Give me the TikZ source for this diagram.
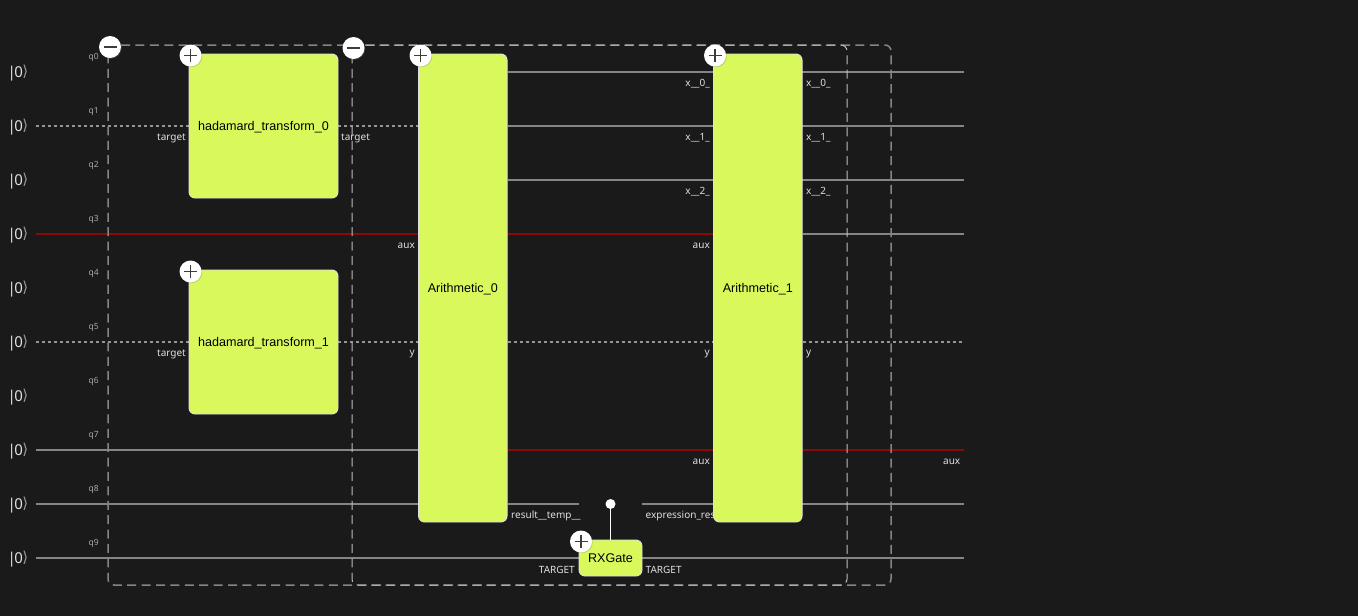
\documentclass[tikz,border=0pt]{standalone}
\usepackage{fontspec}
\setmainfont{Liberation Sans}
\newfontfamily\labelfont{Noto Sans}
\newfontfamily\ketfont{DejaVu Sans}
\usetikzlibrary{calc}
\usetikzlibrary{shadows}
\pgfdeclarelayer{back}
\pgfsetlayers{back,main}
\definecolor{bgDark}{HTML}{1A1A1A}
\definecolor{blockLime}{HTML}{D9F85B}
\definecolor{wireGrey}{HTML}{858585}
\definecolor{wireRed}{HTML}{8A0A0A}
\definecolor{labelGrey}{HTML}{E0E0E0}
\definecolor{dotGrey}{HTML}{969696}
\definecolor{ketDim}{HTML}{9A9A9A}
\newcommand{\ketzero}{|\kern-1.5pt 0\kern-0.5pt\raisebox{0.6pt}{\textcolor{ketDim}{\ketfont\fontsize{15}{17}\selectfont⟩}}}
\begin{document}
\begin{tikzpicture}[x=1pt, y=-1pt,
	blockStyle/.style={rectangle, draw=labelGrey, line width=0.9pt, fill=blockLime, rounded corners=6pt, inner sep=0pt, text=black, text height=10.5pt, text depth=2pt, font=\fontsize{12.6}{15}\selectfont},
	wireStyle/.style={wireGrey, line width=1.9pt},
	redWire/.style={wireRed, line width=1.9pt},
	dotWire/.style={dotGrey, line width=1.5pt, dash pattern=on 3pt off 3pt},
	outerBox/.style={wireGrey, line width=1.5pt, rounded corners=6pt, dash pattern=on 9pt off 5.4pt},
	innerBox/.style={labelGrey!85!black, line width=1pt, rounded corners=6pt, dash pattern=on 9pt off 5.4pt},
	ketStyle/.style={text=labelGrey, inner sep=0pt, font=\labelfont\fontsize{15}{17}\selectfont},
	qubitStyle/.style={text=labelGrey!75!black, inner sep=0pt, anchor=east, font=\labelfont\fontsize{8.5}{10}\selectfont},
	portEast/.style={text=labelGrey, inner sep=0pt, anchor=east, font=\labelfont\fontsize{10}{12}\selectfont},
	portWest/.style={text=labelGrey, inner sep=0pt, anchor=west, font=\labelfont\fontsize{10}{12}\selectfont},
	btnStyle/.style={circle, fill=white, inner sep=0pt, minimum size=22pt, drop shadow={shadow xshift=0.8pt, shadow yshift=-0.8pt, opacity=0.3}},
	plusBtn/.style={btnStyle, path picture={
		\draw[bgDark!85!white, line width=1.5pt] ($(path picture bounding box.center)+(-6.5,0)$) -- ($(path picture bounding box.center)+(6.5,0)$);
		\draw[bgDark!85!white, line width=1.5pt] ($(path picture bounding box.center)+(0,-6.5)$) -- ($(path picture bounding box.center)+(0,6.5)$);}},
	minusBtn/.style={btnStyle, path picture={
		\draw[bgDark!85!white, line width=1.5pt] ($(path picture bounding box.center)+(-6.5,0)$) -- ($(path picture bounding box.center)+(6.5,0)$);}}]
	\useasboundingbox (0,0) rectangle (1358,616);

	% Blocks
	\node[blockStyle, minimum width=149pt, minimum height=144pt] (had0) at (263.5,126) {hadamard\_transform\_0};
	\node[blockStyle, minimum width=149pt, minimum height=144pt] (had1) at (263.5,342) {hadamard\_transform\_1};
	\node[blockStyle, minimum width=88.5pt, minimum height=468pt] (arith0) at (462.8,288) {Arithmetic\_0};
	\node[blockStyle, minimum width=88.5pt, minimum height=468pt] (arith1) at (757.8,288) {Arithmetic\_1};
	\node[blockStyle, minimum width=63pt, minimum height=36pt] (rx) at (610.5,558) {RXGate};

	% Wire ends
	\coordinate (start1) at (36,126);
	\coordinate (start3) at (36,234);
	\coordinate (start5) at (36,342);
	\coordinate (start7) at (36,450);
	\coordinate (start8) at (36,504);
	\coordinate (start9) at (36,558);
	\coordinate (end0) at (964,72);
	\coordinate (end1) at (964,126);
	\coordinate (end2) at (964,180);
	\coordinate (end3) at (964,234);
	\coordinate (end5) at (964,342);
	\coordinate (end7) at (964,450);
	\coordinate (end8) at (964,504);
	\coordinate (end9) at (964,558);
	\coordinate (gapLeft) at (579,504);
	\coordinate (gapRight) at (642,504);

	\begin{pgfonlayer}{back}
	\fill[bgDark] (0,0) rectangle (1358,616);

	% Kets
	\node[ketStyle] (ket0) at (18,73) {\ketzero};
	\node[ketStyle] (ket1) at (18,127) {\ketzero};
	\node[ketStyle] (ket2) at (18,181) {\ketzero};
	\node[ketStyle] (ket3) at (18,235) {\ketzero};
	\node[ketStyle] (ket4) at (18,289) {\ketzero};
	\node[ketStyle] (ket5) at (18,343) {\ketzero};
	\node[ketStyle] (ket6) at (18,397) {\ketzero};
	\node[ketStyle] (ket7) at (18,451) {\ketzero};
	\node[ketStyle] (ket8) at (18,505) {\ketzero};
	\node[ketStyle] (ket9) at (18,559) {\ketzero};

	% Qubit names
	\node[qubitStyle] (q0) at (99,57.5) {q0};
	\node[qubitStyle] (q1) at (99,111.5) {q1};
	\node[qubitStyle] (q2) at (99,165.5) {q2};
	\node[qubitStyle] (q3) at (99,219.5) {q3};
	\node[qubitStyle] (q4) at (99,273.5) {q4};
	\node[qubitStyle] (q5) at (99,327.5) {q5};
	\node[qubitStyle] (q6) at (99,381.5) {q6};
	\node[qubitStyle] (q7) at (99,435.5) {q7};
	\node[qubitStyle] (q8) at (99,489.5) {q8};
	\node[qubitStyle] (q9) at (99,543.5) {q9};

	% Wires
	\draw[dotWire] (start1) -- (had0.west |- start1);
	\draw[dotWire] (had0.east |- start1) -- (arith0.west |- start1);
	\draw[redWire] (start3) -- (arith0.west |- start3);
	\draw[dotWire] (start5) -- (had1.west |- start5);
	\draw[dotWire] (had1.east |- start5) -- (arith0.west |- start5);
	\draw[wireStyle] (start7) -- (arith0.west |- start7);
	\draw[wireStyle] (start8) -- (arith0.west |- start8);
	\draw[wireStyle] (start9) -- (rx.west |- start9);
	\draw[wireStyle] (arith0.east |- end0) -- (end0);
	\draw[wireStyle] (arith0.east |- end1) -- (end1);
	\draw[wireStyle] (arith0.east |- end2) -- (end2);
	\draw[redWire] (arith0.east |- end3) -- (arith1.west |- end3);
	\draw[wireStyle] (arith1.east |- end3) -- (end3);
	\draw[dotWire] (arith0.east |- end5) -- (arith1.west |- end5);
	\draw[dotWire] (arith1.east |- end5) -- (end5);
	\draw[redWire] (arith0.east |- end7) -- (end7);
	\draw[wireStyle] (arith0.east |- end8) -- (gapLeft);
	\draw[wireStyle] (gapRight) -- (end8);
	\draw[wireStyle] (rx.east |- end9) -- (end9);

	% Collapsible groups
	\draw[outerBox] (891,585) -- (108,585) -- (108,45) -- (891,45) -- cycle;
	\draw[innerBox] (847,585) -- (352,585) -- (352,45) -- (847,45) -- cycle;

	% Port names
	\node[portEast] (portHad0In) at (186,138) {target};
	\node[portWest] (portHad0Out) at (341,138) {target};
	\node[portEast] (portHad1In) at (186,354) {target};
	\node[portEast] (portAux0) at (415,246) {aux};
	\node[portEast] (portY0) at (415,354) {y};
	\node[portWest] (portTemp) at (511,516) {result\_\_temp\_\_};
	\node[portWest] (portExpr) at (645.5,516) {expression\_res};
	\node[portEast] (portX0In) at (710,84) {x\_\_0\_};
	\node[portEast] (portX1In) at (710,138) {x\_\_1\_};
	\node[portEast] (portX2In) at (710,192) {x\_\_2\_};
	\node[portEast] (portAux1) at (710,246) {aux};
	\node[portEast] (portY1) at (710,354) {y};
	\node[portEast] (portAux2) at (710,462) {aux};
	\node[portWest] (portX0Out) at (806,84) {x\_\_0\_};
	\node[portWest] (portX1Out) at (806,138) {x\_\_1\_};
	\node[portWest] (portX2Out) at (806,192) {x\_\_2\_};
	\node[portWest] (portY2) at (806,354) {y};
	\node[portWest] (portAux3) at (943,462) {aux};
	\node[portEast] (portRxIn) at (575,569.5) {TARGET};
	\node[portWest] (portRxOut) at (645.5,569.5) {TARGET};
	\end{pgfonlayer}

	% Control
	\node[circle, fill=white, inner sep=0pt, minimum size=10pt] (ctrl) at (610.5,504) {};
	\draw[white, line width=1pt] (ctrl) -- (rx.north);

	% Buttons
	\node[minusBtn] (fold0) at (110,47) {};
	\node[minusBtn] (fold1) at (353.5,48) {};
	\node[plusBtn] (openHad0) at (190.5,55.5) {};
	\node[plusBtn] (openHad1) at (190.5,271.5) {};
	\node[plusBtn] (openArith0) at (420.5,55.5) {};
	\node[plusBtn] (openArith1) at (715,55.5) {};
	\node[plusBtn] (openRx) at (581,541.5) {};
\end{tikzpicture}
\end{document}
